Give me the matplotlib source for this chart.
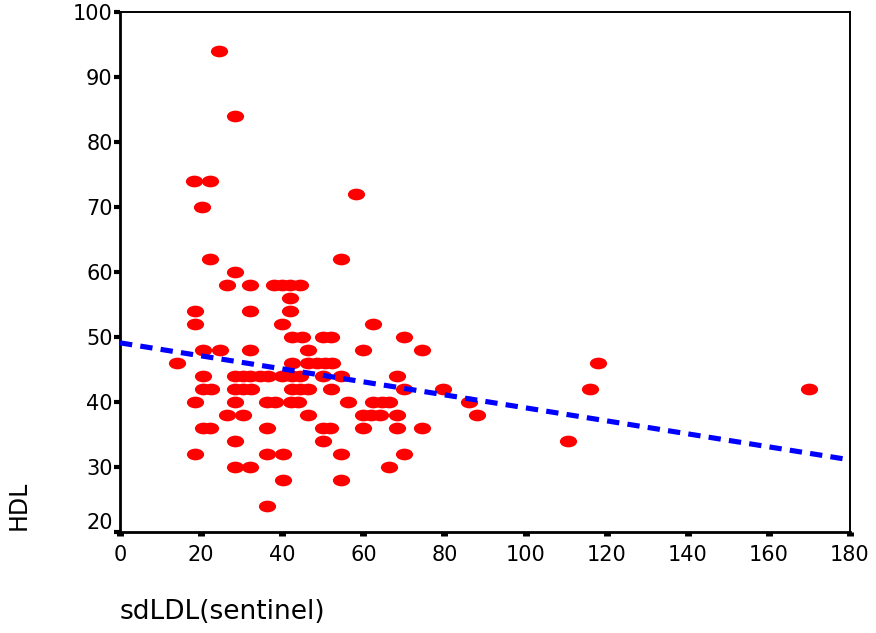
import numpy as np
import matplotlib
matplotlib.use("Agg")
import matplotlib.pyplot as plt
from matplotlib.path import Path
from matplotlib.transforms import Affine2D, ScaledTranslation

plt.rcParams['font.family'] = ['DejaVu Sans']

# points, one row of equal HDL per line
sd_ldl = [24.5,
          28.4,
          18.3, 22.2,
          58.2,
          20.3,
          22.2, 54.4,
          28.4,
          26.5, 32, 38, 40, 42, 44.5,
          42,
          18.5, 32, 42,
          18.5, 40, 62.5,
          42.3, 44.8, 50, 52, 70,
          20.4, 24.7, 32, 46.4, 60, 74.4,
          14, 42.3, 46.4, 48.5, 50.5, 52.2, 117.8,
          20.4, 28.4, 30.4, 32, 34.5, 36.5, 40, 42.5, 44.5, 50, 54.5, 68.2,
          20.4, 22.4, 28.4, 30.4, 32.4, 42.3, 44.4, 46.4, 52, 70, 79.7, 116, 170,
          18.5, 28.4, 36.2, 38.2, 42.2, 44, 56.3, 62.5, 64.5, 66.4, 86.1,
          26.3, 30.4, 46.4, 60, 62, 64, 68.2, 88,
          20.4, 22.2, 36.3, 50.1, 51.9, 60, 68.2, 74.4,
          28.4, 50.1, 110.4,
          18.5, 36.3, 40.3, 54.4, 70,
          28.4, 32, 66.3,
          40.1, 54.4,
          36.3]
hdl = [94,
       84,
       74, 74,
       72,
       70,
       62, 62,
       60,
       58, 58, 58, 58, 58, 58,
       56,
       54, 54, 54,
       52, 52, 52,
       50, 50, 50, 50, 50,
       48, 48, 48, 48, 48, 48,
       46, 46, 46, 46, 46, 46, 46,
       44, 44, 44, 44, 44, 44, 44, 44, 44, 44, 44, 44,
       42, 42, 42, 42, 42, 42, 42, 42, 42, 42, 42, 42, 42,
       40, 40, 40, 40, 40, 40, 40, 40, 40, 40, 40,
       38, 38, 38, 38, 38, 38, 38, 38,
       36, 36, 36, 36, 36, 36, 36, 36,
       34, 34, 34,
       32, 32, 32, 32, 32,
       30, 30, 30,
       28, 28,
       24]

# fitted line ends
fit_x = [0, 180]
fit_y = [49.1, 31.1]

x_ticks = [0, 20, 40, 60, 80, 100, 120, 140, 160, 180]
y_ticks = [20, 30, 40, 50, 60, 70, 80, 90, 100]

fig = plt.figure(figsize=(8.76, 6.33), dpi=100)
ax = fig.add_axes([120/876, 101/633, 730/876, 520/633])

# flat ellipse marker
circ = Path.unit_circle()
ellipse = Path(Affine2D().scale(1, 0.68).transform(circ.vertices), circ.codes)

ax.plot(sd_ldl, hdl, ls='none', marker=ellipse, ms=12.4,
        color='#ff0000', markeredgewidth=0, zorder=2)
ax.plot(fit_x, fit_y, color='#0000ff', lw=3.7, dashes=(2.4, 1.6),
        solid_capstyle='butt', dash_capstyle='butt', zorder=3)

ax.set_xlim(0, 180)
ax.set_ylim(20, 100)
ax.set_xticks(x_ticks)
ax.set_yticks(y_ticks)
ax.tick_params(axis='x', direction='out', length=2.6, width=5, pad=7,
               labelsize=15, colors='black')
ax.tick_params(axis='y', direction='out', length=4.3, width=3, pad=1,
               labelsize=15, colors='black')

for side in ['left', 'bottom']:
    ax.spines[side].set_linewidth(2.0)
for side in ['top', 'right']:
    ax.spines[side].set_linewidth(1.4)

# nudge the lowest y label up like the original
lab = ax.get_yticklabels()[0]
lab.set_transform(lab.get_transform() + ScaledTranslation(0, 8/72, fig.dpi_scale_trans))

fig.text(19/876, 1 - 505/633, 'HDL', rotation=90, ha='center', va='center', fontsize=17)
fig.text(120/876, 1 - 612/633, 'sdLDL(sentinel)', ha='left', va='center', fontsize=19)

fig.savefig('out.png', dpi=100)
